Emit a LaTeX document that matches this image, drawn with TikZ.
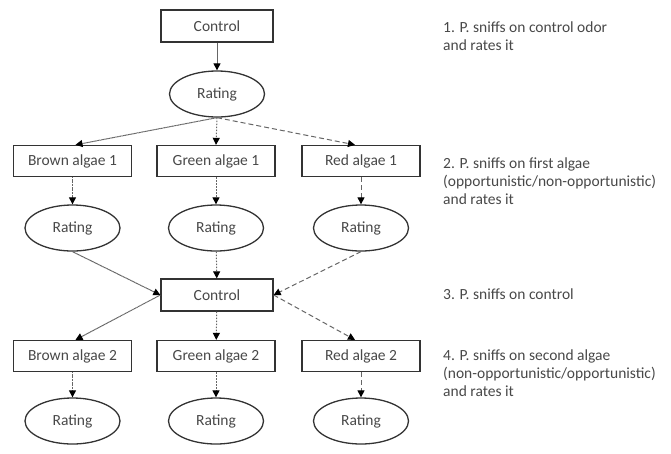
\documentclass[tikz,border=0pt]{standalone}
\usepackage{fontspec}
\setmainfont{Carlito}
\usetikzlibrary{shapes.geometric,arrows.meta}
\definecolor{txt}{HTML}{484848}
\definecolor{edge}{HTML}{333333}
\definecolor{ln}{HTML}{666666}
\tikzset{
  stepbox/.style={draw=edge, line width=1.3pt, minimum width=118pt, minimum height=31pt, inner sep=0pt, text=txt},
  ctrlbox/.style={stepbox, minimum width=112pt, minimum height=32pt},
  rate/.style={ellipse, draw=edge, line width=1.3pt, minimum width=95pt, minimum height=46pt, inner sep=0pt, text=txt},
  note/.style={anchor=north west, inner sep=0pt, align=left, text=txt, font=\fontsize{15.5}{18}\selectfont},
  con/.style={draw=ln, line width=1pt, -{Triangle[length=7pt,width=7pt,fill=black,color=black]}},
  solidc/.style={con},
  brownc/.style={con, dash pattern=on 1.2pt off 0.4pt},
  greenc/.style={con, dash pattern=on 1.5pt off 1.5pt},
  redc/.style={con, dash pattern=on 5pt off 3pt},
}
\begin{document}
\begin{tikzpicture}[x=1pt,y=-1pt, font=\fontsize{15.5}{18}\selectfont]
\useasboundingbox (0,0) rectangle (671,453);
\node[ctrlbox] (c1) at (217,26) {Control};
\node[rate] (r0) at (217,94) {Rating};
\node[stepbox] (b1) at (72.5,161) {Brown algae 1};
\node[stepbox] (g1) at (216,161) {Green algae 1};
\node[stepbox] (d1) at (361,161) {Red algae 1};
\node[rate] (rb1) at (72.5,228) {Rating};
\node[rate] (rg1) at (216,228) {Rating};
\node[rate] (rd1) at (361,228) {Rating};
\node[ctrlbox] (c2) at (217,295) {Control};
\node[stepbox] (b2) at (72.5,356) {Brown algae 2};
\node[stepbox] (g2) at (216,356) {Green algae 2};
\node[stepbox] (d2) at (361,356) {Red algae 2};
\node[rate] (rb2) at (72.5,421) {Rating};
\node[rate] (rg2) at (216,421) {Rating};
\node[rate] (rd2) at (361,421) {Rating};

\path[solidc] (c1) -- (r0);
\path[brownc] (r0.south) -- ([xshift=3pt]b1.north);
\path[greenc] (r0.south) -- (g1.north);
\path[redc] (r0.south) -- ([xshift=-6pt]d1.north);
\path[brownc] (b1) -- (rb1);
\path[greenc] (g1) -- (rg1);
\path[redc] (d1) -- (rd1);
\path[brownc] (rb1.south) -- (c2.west);
\path[greenc] (rg1) -- (c2);
\path[redc] (rd1.south) -- (c2.east);
\path[brownc] (c2.west) -- ([xshift=3pt]b2.north);
\path[greenc] (c2) -- (g2);
\path[redc] (c2.east) -- ([xshift=-6pt]d2.north);
\path[brownc] (b2) -- (rb2);
\path[greenc] (g2) -- (rg2);
\path[redc] (d2) -- (rd2);

\node[note] (n1) at (443,22) {1. P. sniffs on control odor\\and rates it};
\node[note] (n2) at (443,158) {2. P. sniffs on first algae\\(opportunistic/non-opportunistic)\\and rates it};
\node[note] (n3) at (443,289) {3. P. sniffs on control};
\node[note] (n4) at (443,350) {4. P. sniffs on second algae\\(non-opportunistic/opportunistic)\\and rates it};
\end{tikzpicture}
\end{document}
